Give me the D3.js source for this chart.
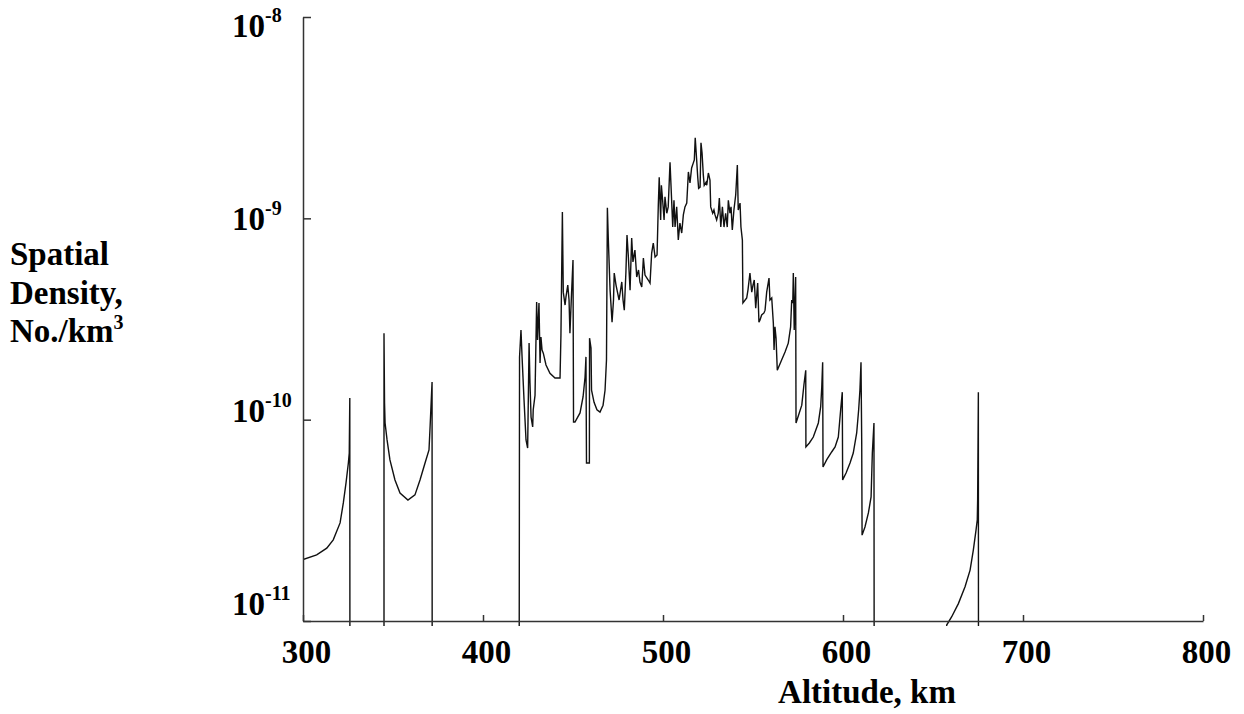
<!DOCTYPE html>
<html>
<head>
<meta charset="utf-8">
<script src="https://cdn.jsdelivr.net/npm/d3@7"></script>
<style>
  html, body { margin: 0; padding: 0; background: #fff; }
  svg { display: block; }
  text { font-family: "Liberation Serif", "Times New Roman", serif; font-weight: bold; fill: #000; }
</style>
</head>
<body>
<script>
// ---- data ----
const altitude = [
  300.0, 307.6, 313.2, 316.8, 320.6, 322.4, 323.9, 325.2, 325.7, 326.0, 326.1,
  345.0, 345.0, 345.3, 345.6, 346.7, 348.3, 351.1, 353.9, 358.3, 362.2, 365.0, 367.8, 370.0, 370.6, 371.7, 371.8,
  420.0, 420.3, 421.1, 421.7, 422.8, 423.9, 424.8, 425.6, 426.1, 426.7, 427.6, 427.9, 428.9, 429.8, 430.3, 431.1,
  431.7, 432.2, 432.8, 433.5, 435.0, 437.2, 440.0, 442.8, 443.3, 444.1, 444.6, 445.6, 446.1, 447.1, 447.8, 448.3,
  449.2, 450.0, 450.3, 451.1, 453.9, 455.6, 456.7, 457.2, 457.5, 459.1, 459.2, 460.0, 460.3, 461.7, 463.3, 465.0,
  466.7, 467.8, 468.6, 469.1, 469.6, 470.6, 471.7, 472.5, 472.9, 473.9, 474.7, 475.6, 477.1, 477.8, 478.5, 479.4,
  480.0, 480.7, 481.7, 482.6, 483.3, 484.4, 485.4, 486.4, 487.2, 488.2, 489.1, 490.0, 491.8, 492.8, 493.7, 494.6,
  495.6, 496.7, 497.4, 497.9, 498.7, 499.1, 499.8, 500.6, 501.1, 502.1, 502.9, 503.9, 504.8, 505.4, 506.1, 506.7,
  507.6, 508.5, 509.4, 510.4, 511.3, 512.2, 513.2, 514.1, 515.0, 515.9, 516.8, 517.4, 517.9, 518.7, 519.3, 519.8,
  520.6, 521.1, 521.7, 522.4, 522.9, 523.9, 524.3, 525.2, 526.1, 526.5, 527.6, 528.3, 528.9, 529.8, 530.7, 531.3,
  532.1, 533.0, 533.9, 534.8, 535.7, 536.3, 537.2, 537.8, 538.5, 539.4, 540.4, 541.3, 541.8, 542.8, 543.3, 544.1,
  544.4, 546.5, 547.2, 548.3, 549.3, 550.0, 550.7, 551.5, 552.6, 553.3, 553.9, 554.8, 556.1, 556.7, 557.6, 558.9,
  559.4, 560.4, 561.3, 561.7, 562.2, 562.8, 563.5, 565.9, 567.8, 569.6, 570.9, 571.5, 572.1, 572.4, 572.9, 573.7,
  573.9, 577.1, 578.3, 579.3, 579.4, 581.3, 583.5, 586.3, 587.6, 588.2, 588.7, 588.9, 590.9, 593.7, 595.6, 597.4,
  598.7, 599.6, 599.8, 601.7, 603.9, 605.7, 607.6, 608.7, 609.4, 610.0, 610.4, 610.6, 612.2, 614.1, 615.6, 616.3,
  617.2, 617.4,
  656.5, 657.6, 660.4, 664.1, 667.8, 670.6, 672.4, 673.9, 674.6, 674.8, 675.2, 675.3, 800.0
];
const density = [
  2.02e-11, 2.13e-11, 2.30e-11, 2.53e-11, 3.07e-11, 3.86e-11, 4.85e-11, 6.09e-11, 6.83e-11, 1.28e-10, 1e-12,
  1e-12, 2.69e-10, 1.21e-10, 9.63e-11, 7.93e-11, 6.31e-11, 5.02e-11, 4.32e-11, 3.99e-11, 4.23e-11, 5.02e-11, 6.09e-11, 7.07e-11, 9.2e-11, 1.54e-10, 1e-12,
  1e-12, 2.05e-10, 2.79e-10, 2.05e-10, 1.25e-10, 7.93e-11, 7.23e-11, 2.40e-10, 1.52e-10, 1.03e-10, 9.2e-11, 1.12e-10, 1.32e-10, 3.84e-10, 2.49e-10, 3.80e-10,
  1.91e-10, 2.57e-10, 2.22e-10, 2.14e-10, 1.87e-10, 1.70e-10, 1.61e-10, 1.61e-10, 2.63e-10, 1.075e-9, 4.30e-10, 3.71e-10, 4.07e-10, 4.66e-10, 3.93e-10, 2.69e-10,
  4.26e-10, 6.21e-10, 9.74e-11, 9.74e-11, 1.08e-10, 1.30e-10, 1.63e-10, 2.05e-10, 6.09e-11, 6.09e-11, 2.54e-10, 2.27e-10, 1.40e-10, 1.22e-10, 1.12e-10, 1.09e-10,
  1.18e-10, 1.40e-10, 1.98e-10, 1.13e-9, 7.98e-10, 4.40e-10, 3.05e-10, 3.93e-10, 5.35e-10, 4.66e-10, 4.30e-10, 3.93e-10, 4.83e-10, 3.93e-10, 3.50e-10, 5.41e-10,
  8.26e-10, 6.57e-10, 4.40e-10, 7.98e-10, 6.07e-10, 6.96e-10, 5.11e-10, 5.54e-10, 4.83e-10, 4.56e-10, 6.35e-10, 5.23e-10, 4.94e-10, 4.77e-10, 6.72e-10, 7.54e-10,
  6.42e-10, 6.57e-10, 1.17e-9, 1.60e-9, 9.81e-10, 1.46e-9, 1.23e-9, 9.81e-10, 1.28e-9, 1.06e-9, 1.14e-9, 1.90e-9, 1.23e-9, 9.05e-10, 1.23e-9, 9.05e-10,
  1.14e-9, 7.80e-10, 9.48e-10, 8.45e-10, 1.04e-9, 1.14e-9, 1.19e-9, 1.70e-9, 1.50e-9, 1.78e-9, 1.88e-9, 1.95e-9, 2.51e-9, 1.95e-9, 1.60e-9, 1.41e-9,
  1.43e-9, 2.37e-9, 2.11e-9, 1.64e-9, 1.46e-9, 1.51e-9, 1.46e-9, 1.68e-9, 1.55e-9, 1.14e-9, 1.06e-9, 1.10e-9, 1.04e-9, 9.81e-10, 1.06e-9, 1.26e-9,
  9.05e-10, 1.14e-9, 9.05e-10, 1.06e-9, 9.05e-10, 1.23e-9, 1.06e-9, 1.14e-9, 8.75e-10, 1.10e-9, 1.31e-9, 1.84e-9, 1.10e-9, 1.19e-9, 9.05e-10, 7.80e-10,
  3.80e-10, 4.02e-10, 4.40e-10, 5.35e-10, 4.30e-10, 4.66e-10, 4.94e-10, 3.58e-10, 4.77e-10, 3.05e-10, 3.13e-10, 3.31e-10, 3.39e-10, 3.50e-10, 4.30e-10, 5.05e-10,
  3.93e-10, 4.02e-10, 3.02e-10, 2.22e-10, 2.89e-10, 2.54e-10, 1.76e-10, 1.98e-10, 2.17e-10, 2.40e-10, 2.89e-10, 3.93e-10, 3.80e-10, 5.35e-10, 2.79e-10, 5.11e-10,
  9.63e-11, 1.18e-10, 1.49e-10, 1.76e-10, 7.32e-11, 7.66e-11, 8.20e-11, 9.63e-11, 1.16e-10, 1.45e-10, 1.93e-10, 5.82e-11, 6.31e-11, 6.91e-11, 7.32e-11, 8.20e-11,
  1.12e-10, 1.37e-10, 5.02e-11, 5.43e-11, 6.09e-11, 6.83e-11, 8.59e-11, 1.12e-10, 1.40e-10, 1.93e-10, 7.66e-11, 2.67e-11, 2.93e-11, 3.44e-11, 4.13e-11, 6.83e-11,
  9.63e-11, 1e-12,
  1e-12, 9.55e-12, 1.05e-11, 1.22e-11, 1.48e-11, 1.79e-11, 2.25e-11, 2.83e-11, 3.18e-11, 3.99e-11, 1.37e-10, 1e-12, 1e-12
];
const xTicks = [300, 400, 500, 600, 700, 800];
const yTicks = [1e-11, 1e-10, 1e-9, 1e-8];
const yTickExp = ["-11", "-10", "-9", "-8"];
const yTitleLines = ["Spatial", "Density,", "No./km"];
const xTitle = "Altitude, km";

// ---- drawing ----
const W = 1244, H = 714;
const svg = d3.select("body").append("svg").attr("width", W).attr("height", H);

const x = d3.scaleLinear().domain([300, 800]).range([303, 1203]);
const y = d3.scaleLog().domain([1e-11, 1e-8]).range([621, 17]);
// baselines of the y tick labels (labels are spaced a little tighter than the ticks)
const yLab = d3.scaleLog().domain([1e-11, 1e-8]).range([615, 37]);

svg.append("clipPath").attr("id", "plotclip")
  .append("rect").attr("x", 303).attr("y", 0).attr("width", 900).attr("height", 626);

const pts = altitude.map((a, i) => [a, density[i]]);
const line = d3.line().x(d => x(d[0])).y(d => y(d[1]));

svg.append("path")
  .datum(pts)
  .attr("clip-path", "url(#plotclip)")
  .attr("fill", "none")
  .attr("stroke", "#111")
  .attr("stroke-width", 1.4)
  .attr("stroke-linejoin", "miter")
  .attr("d", line);

// x axis (ticks point inward)
const xAxis = d3.axisBottom(x).tickValues(xTicks).tickSizeInner(-6).tickSizeOuter(0).tickFormat(d3.format("d"));
const gx = svg.append("g").attr("transform", `translate(0,${y(1e-11)})`).call(xAxis);
gx.select(".domain").attr("stroke", "#333").attr("stroke-width", 1.5);
gx.selectAll(".tick line").attr("stroke", "#333").attr("stroke-width", 1.5);
gx.selectAll(".tick text")
  .attr("y", 42).attr("dy", 0).attr("dx", 3)
  .style("font-family", '"Liberation Serif", "Times New Roman", serif')
  .style("font-weight", "bold")
  .style("font-size", "33px")
  .attr("fill", "#000");

// y axis (ticks point inward)
const yAxis = d3.axisLeft(y).tickValues(yTicks).tickSizeInner(-8).tickSizeOuter(0).tickFormat("");
const gy = svg.append("g").attr("transform", `translate(${x(300)},0)`).call(yAxis);
gy.select(".domain").attr("stroke", "#333").attr("stroke-width", 1.5);
gy.selectAll(".tick line").attr("stroke", "#333").attr("stroke-width", 1.5);

// y tick labels with superscript exponent
const yl = svg.append("g").selectAll("text").data(yTicks).join("text")
  .attr("x", 232)
  .attr("y", d => yLab(d))
  .style("font-size", "33px");
yl.append("tspan").text("10");
yl.append("tspan").text((d, i) => yTickExp[i])
  .attr("dy", -15).style("font-size", "20px");

// y title
const yt = svg.append("text").attr("x", 10).attr("y", 265).style("font-size", "33px");
yt.selectAll("tspan").data(yTitleLines).join("tspan")
  .attr("x", 10).attr("y", (d, i) => 265 + i * 38.5).text(d => d);
yt.append("tspan").text("3").attr("dy", -13).style("font-size", "20px");

// x title
svg.append("text").attr("x", 867).attr("y", 703).attr("text-anchor", "middle")
  .style("font-size", "33px").text(xTitle);
</script>
</body>
</html>
